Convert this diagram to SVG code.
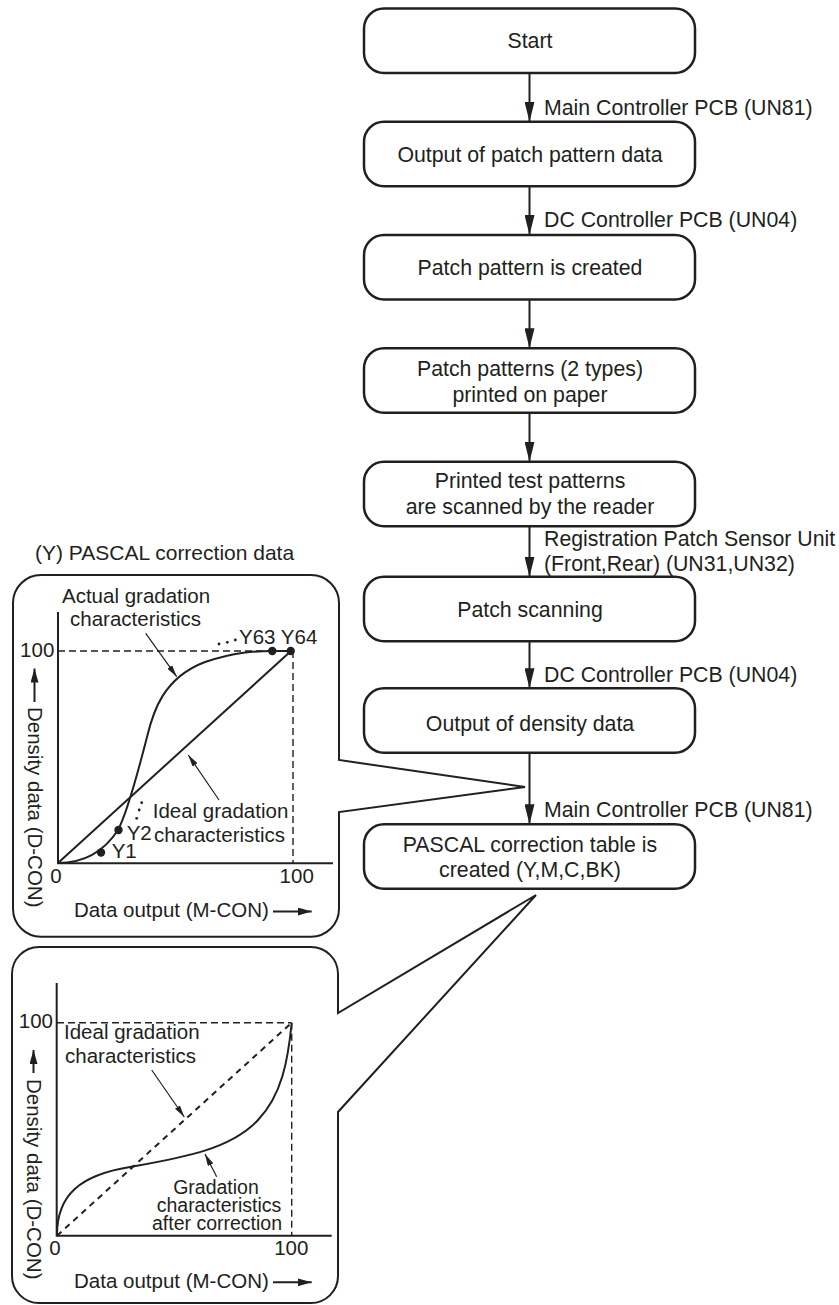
<svg xmlns="http://www.w3.org/2000/svg" width="839" height="1305" viewBox="0 0 839 1305">
<style>
.box{fill:#fff;stroke:#231f20;stroke-width:2.5}
.ft{font-family:"Liberation Sans",Arial,sans-serif;font-size:21.3px;fill:#231f20;text-anchor:middle}
.lt{font-family:"Liberation Sans",Arial,sans-serif;font-size:21.3px;fill:#231f20}
.ct{font-family:"Liberation Sans",Arial,sans-serif;font-size:20.5px;fill:#231f20}
.st{font-family:"Liberation Sans",Arial,sans-serif;font-size:19.5px;fill:#231f20;text-anchor:middle}
.conn{stroke:#231f20;stroke-width:2;fill:none}
.frame{fill:#fff;stroke:#231f20;stroke-width:2;stroke-linejoin:miter}
.axis{stroke:#231f20;stroke-width:2;fill:none}
.dash{stroke:#231f20;stroke-width:1.4;fill:none;stroke-dasharray:7,4}
.curve{stroke:#231f20;stroke-width:2;fill:none}
.ptr{stroke:#231f20;stroke-width:1.2;fill:none}
.dot{fill:#231f20}
</style>
<defs>
<marker id="ah" markerUnits="userSpaceOnUse" markerWidth="20" markerHeight="10" refX="20" refY="5" orient="auto"><path d="M0,0 L20,5 L0,10 Z" fill="#231f20"/></marker>
<marker id="sa" markerUnits="userSpaceOnUse" markerWidth="12" markerHeight="6" refX="12" refY="3" orient="auto"><path d="M0,0 L12,3 L0,6 Z" fill="#231f20"/></marker>
<marker id="ma" markerUnits="userSpaceOnUse" markerWidth="14" markerHeight="8" refX="14" refY="4" orient="auto"><path d="M0,0 L14,4 L0,8 Z" fill="#231f20"/></marker>
</defs>

<g id="connectors">
<line class="conn" x1="529.5" y1="73" x2="529.5" y2="121.7" marker-end="url(#ah)"/>
<line class="conn" x1="529.5" y1="186.2" x2="529.5" y2="235" marker-end="url(#ah)"/>
<line class="conn" x1="529.5" y1="299.5" x2="529.5" y2="348.3" marker-end="url(#ah)"/>
<line class="conn" x1="529.5" y1="412.8" x2="529.5" y2="461.7" marker-end="url(#ah)"/>
<line class="conn" x1="529.5" y1="526.2" x2="529.5" y2="576.7" marker-end="url(#ah)"/>
<line class="conn" x1="529.5" y1="641.2" x2="529.5" y2="688.3" marker-end="url(#ah)"/>
<line class="conn" x1="529.5" y1="752.8" x2="529.5" y2="824.3" marker-end="url(#ah)"/>
<text class="lt" x="544" y="115">Main Controller PCB (UN81)</text>
<text class="lt" x="544" y="227">DC Controller PCB (UN04)</text>
<text class="lt" x="544" y="546">Registration Patch Sensor Unit</text>
<text class="lt" x="544" y="570.7">(Front,Rear) (UN31,UN32)</text>
<text class="lt" x="544" y="681.7">DC Controller PCB (UN04)</text>
<text class="lt" x="544" y="816.7">Main Controller PCB (UN81)</text>
</g>

<g id="n1"><rect class="box" x="364" y="8.5" width="331" height="64.5" rx="20"/><text class="ft" x="530" y="48.3">Start</text></g>
<g id="n2"><rect class="box" x="364" y="121.7" width="331" height="64.5" rx="20"/><text class="ft" x="530" y="162">Output of patch pattern data</text></g>
<g id="n3"><rect class="box" x="364" y="235" width="331" height="64.5" rx="20"/><text class="ft" x="530" y="274.7">Patch pattern is created</text></g>
<g id="n4"><rect class="box" x="364" y="348.3" width="331" height="64.5" rx="20"/><text class="ft" x="530" y="376">Patch patterns (2 types)</text><text class="ft" x="530" y="401.7">printed on paper</text></g>
<g id="n5"><rect class="box" x="364" y="461.7" width="331" height="64.5" rx="20"/><text class="ft" x="530" y="488.3">Printed test patterns</text><text class="ft" x="530" y="514.3">are scanned by the reader</text></g>
<g id="n6"><rect class="box" x="364" y="576.7" width="331" height="64.5" rx="20"/><text class="ft" x="530" y="616.7">Patch scanning</text></g>
<g id="n7"><rect class="box" x="364" y="688.3" width="331" height="64.5" rx="20"/><text class="ft" x="530" y="730.7">Output of density data</text></g>
<g id="n8"><rect class="box" x="364" y="824.3" width="331" height="64.5" rx="20"/><text class="ft" x="530" y="851.7">PASCAL correction table is</text><text class="ft" x="530" y="877.3">created (Y,M,C,BK)</text></g>

<g id="chart1">
<text class="ct" x="35" y="560" style="font-size:21px">(Y) PASCAL correction data</text>
<path class="frame" d="M525,787 L339,760 V603 A28,28 0 0 0 311,575 H41 A28,28 0 0 0 13,603 V908.7 A28,28 0 0 0 41,936.7 H311 A28,28 0 0 0 339,908.7 V812 Z"/>
<line class="dash" x1="58" y1="651" x2="293" y2="651"/>
<line class="dash" x1="293" y1="651" x2="293" y2="863"/>
<path class="axis" d="M58,612 V863.3 H333"/>
<line class="curve" x1="58" y1="863" x2="291" y2="651"/>
<path class="curve" d="M58,863 C85,863 105,850 118,830 C126,815 136,780 147,737 C153,712 163,678 205,662 C235,652 255,651 272,651 L291,651"/>
<circle class="dot" cx="101" cy="852.5" r="4.2"/>
<circle class="dot" cx="118.5" cy="830" r="4.2"/>
<circle class="dot" cx="272.3" cy="651" r="4.2"/>
<circle class="dot" cx="290.7" cy="651" r="4.2"/>
<circle class="dot" cx="141.7" cy="802.7" r="1.4"/>
<circle class="dot" cx="139.2" cy="810" r="1.4"/>
<circle class="dot" cx="136.7" cy="818.3" r="1.4"/>
<circle class="dot" cx="219" cy="644" r="1.4"/>
<circle class="dot" cx="227.3" cy="642.3" r="1.4"/>
<circle class="dot" cx="235.3" cy="640" r="1.4"/>
<text class="ct" x="239" y="644.3">Y63 Y64</text>
<text class="ct" x="111.7" y="858.3">Y1</text>
<text class="ct" x="126.7" y="840">Y2</text>
<text class="ct" x="62" y="603.3">Actual gradation</text>
<text class="ct" x="70" y="626">characteristics</text>
<line class="ptr" x1="145.7" y1="633.3" x2="176.7" y2="676.7" marker-end="url(#sa)"/>
<text class="ct" x="152.7" y="818.3">Ideal gradation</text>
<text class="ct" x="154" y="841.7">characteristics</text>
<line class="ptr" x1="219" y1="800" x2="188.3" y2="755" marker-end="url(#sa)"/>
<text class="ct" x="54.3" y="656.7" text-anchor="end">100</text>
<text class="ct" x="56" y="883.3" text-anchor="middle">0</text>
<text class="ct" x="296.7" y="883.3" text-anchor="middle">100</text>
<text class="ct" x="74" y="916.7">Data output (M-CON)</text>
<line class="axis" x1="273" y1="911.5" x2="311.7" y2="911.5" marker-end="url(#ma)"/>
<line class="axis" x1="34.5" y1="702" x2="34.5" y2="668.5" marker-end="url(#ma)"/>
<text class="ct" transform="translate(27.5,707) rotate(90)">Density data (D-CON)</text>
</g>

<g id="chart2">
<path class="frame" d="M536,895 L338,1013 V974 A27,27 0 0 0 311,947 H39 A27,27 0 0 0 12,974 V1276 A27,27 0 0 0 39,1303 H311 A27,27 0 0 0 338,1276 V1112 Z"/>
<line class="dash" x1="57" y1="1022.7" x2="291.7" y2="1022.7"/>
<line class="dash" x1="291.7" y1="1022.7" x2="291.7" y2="1235.7"/>
<path class="axis" d="M56.7,983 V1235.7 H331.7"/>
<line class="curve" x1="57" y1="1235.7" x2="291.7" y2="1022.7" style="stroke-dasharray:6,5"/>
<path class="curve" d="M57,1235 C57,1195 80,1175 130,1167 C180,1158 230,1150 258,1120 C282,1095 288,1060 291.7,1023"/>
<text class="ct" x="64" y="1039">Ideal gradation</text>
<text class="ct" x="65" y="1062.7">characteristics</text>
<line class="ptr" x1="151.7" y1="1070" x2="184.3" y2="1117" marker-end="url(#sa)"/>
<text class="st" x="216" y="1193.5">Gradation</text>
<text class="st" x="219" y="1211.7">characteristics</text>
<text class="st" x="217" y="1229.5">after correction</text>
<line class="ptr" x1="216.7" y1="1176.7" x2="205" y2="1154" marker-end="url(#sa)"/>
<text class="ct" x="53" y="1028.3" text-anchor="end">100</text>
<text class="ct" x="55" y="1255" text-anchor="middle">0</text>
<text class="ct" x="291.3" y="1255" text-anchor="middle">100</text>
<text class="ct" x="74" y="1288.3">Data output (M-CON)</text>
<line class="axis" x1="273" y1="1282.3" x2="311.7" y2="1282.3" marker-end="url(#ma)"/>
<line class="axis" x1="33.5" y1="1073" x2="33.5" y2="1050" marker-end="url(#ma)"/>
<text class="ct" transform="translate(27,1079) rotate(90)">Density data (D-CON)</text>
</g>
</svg>
